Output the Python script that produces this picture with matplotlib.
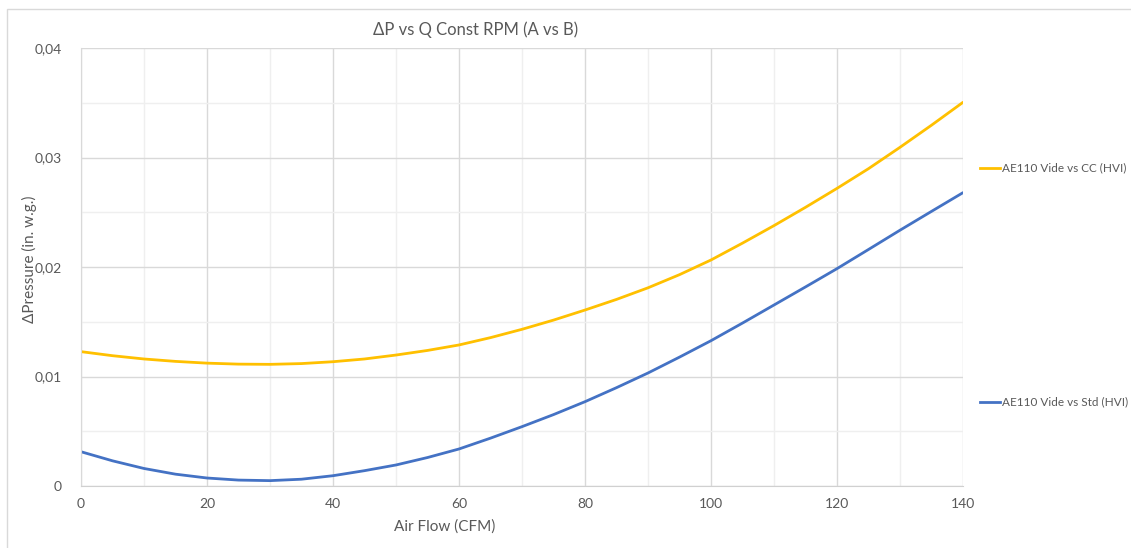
import matplotlib
matplotlib.use("Agg")
import matplotlib.pyplot as plt
from matplotlib.lines import Line2D
from matplotlib.patches import Rectangle
from matplotlib.ticker import MultipleLocator, FuncFormatter

plt.rcParams['font.family'] = ['Lato', 'DejaVu Sans']

# Air flow (CFM)
air_flow = [0, 5, 10, 15, 20, 25, 30, 35, 40, 45, 50, 55, 60, 65, 70,
            75, 80, 85, 90, 95, 100, 105, 110, 115, 120, 125, 130, 135, 140]

# Delta pressure (in. w.g.)
dp_cc = [0.01227, 0.01190, 0.01160, 0.01138, 0.01122, 0.01113, 0.01111, 0.01118,
         0.01135, 0.01160, 0.01196, 0.01238, 0.01288, 0.01355, 0.01431, 0.01515,
         0.01607, 0.01704, 0.01810, 0.01930, 0.02064, 0.02218, 0.02378, 0.02545,
         0.02718, 0.02898, 0.03093, 0.03295, 0.03504]
dp_std = [0.00313, 0.00230, 0.00160, 0.00108, 0.00073, 0.00054, 0.00049, 0.00062,
          0.00094, 0.00140, 0.00192, 0.00260, 0.00338, 0.00437, 0.00542, 0.00652,
          0.00770, 0.00898, 0.01032, 0.01177, 0.01327, 0.01488, 0.01653, 0.01818,
          0.01985, 0.02160, 0.02336, 0.02508, 0.02679]

series_names = ["AE110 Vide vs CC (HVI)", "AE110 Vide vs Std (HVI)"]
title = "ΔP vs Q Const RPM (A vs B)"
x_label = "Air Flow (CFM)"
y_label = "ΔPressure (in. w.g.)"

c_cc = "#FFC000"
c_std = "#4472C4"
text_c = "#595959"

W, H = 1131, 548
fig = plt.figure(figsize=(W / 100, H / 100), dpi=100)

# outer chart frame
fig.patches.append(Rectangle((7 / W, -0.1), 1.2, 1 - 9 / H + 0.1,
                             transform=fig.transFigure, fill=False,
                             edgecolor="#D9D9D9", linewidth=1.0))

ax = fig.add_axes([81 / W, 1 - 486 / H, (963 - 81) / W, (486 - 48) / H])
ax.plot(air_flow, dp_cc, color=c_cc, linewidth=2.0, solid_capstyle="round",
        solid_joinstyle="round")
ax.plot(air_flow, dp_std, color=c_std, linewidth=2.0, solid_capstyle="round",
        solid_joinstyle="round")

ax.set_xlim(0, 140)
ax.set_ylim(0, 0.04)
ax.xaxis.set_major_locator(MultipleLocator(20))
ax.xaxis.set_minor_locator(MultipleLocator(10))
ax.yaxis.set_major_locator(MultipleLocator(0.01))
ax.yaxis.set_minor_locator(MultipleLocator(0.005))
ax.grid(which="major", color="#D9D9D9", linewidth=1.0)
ax.grid(which="minor", color="#EFEFEF", linewidth=1.0)
ax.set_axisbelow(True)
for s in ax.spines.values():
    s.set_visible(False)
ax.spines["bottom"].set_visible(True)
ax.spines["bottom"].set_color("#D0D0D0")
ax.spines["left"].set_visible(True)
ax.spines["left"].set_color("#D9D9D9")

ax.yaxis.set_major_formatter(FuncFormatter(
    lambda v, p: "0" if abs(v) < 1e-12 else f"{v:.2f}".replace(".", ",")))
ax.tick_params(which="both", length=0)
ax.tick_params(axis="x", pad=9, labelsize=10, labelcolor=text_c)
ax.tick_params(axis="y", pad=14, labelsize=10, labelcolor=text_c)

fig.text(476 / W, 1 - 30 / H, title, ha="center", va="center",
         fontsize=12, color=text_c)
fig.text(445 / W, 1 - 527 / H, x_label, ha="center", va="center",
         fontsize=11, color=text_c)
fig.text(29 / W, 1 - 259 / H, y_label, ha="center", va="center",
         rotation=90, fontsize=11, color=text_c)

# legend entries on the right
for (name, col, ypx) in [(series_names[0], c_cc, 168), (series_names[1], c_std, 402)]:
    yf = 1 - ypx / H
    fig.add_artist(Line2D([980 / W, 1000 / W], [yf, yf], color=col,
                          linewidth=2.0, transform=fig.transFigure))
    fig.text(1002 / W, yf, name, ha="left", va="center",
             fontsize=8.5, color=text_c)

fig.savefig("out.png", dpi=100)
